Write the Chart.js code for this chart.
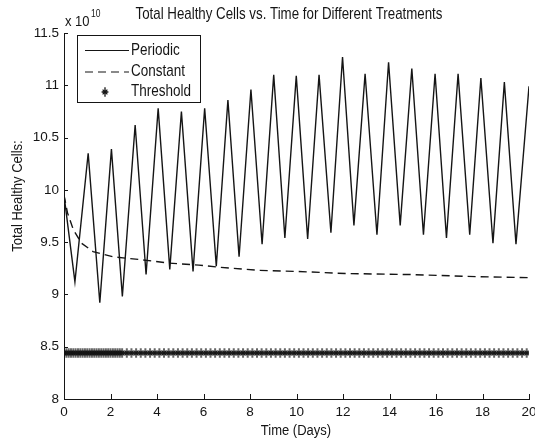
<!DOCTYPE html>
<html>
<head>
<meta charset="utf-8">
<script src="https://cdn.jsdelivr.net/npm/chart.js@4/dist/chart.umd.min.js"></script>
<style>
  html, body { margin: 0; padding: 0; background: #fff; }
  #wrap { width: 535px; height: 441px; }
</style>
</head>
<body>
<div id="wrap"><canvas id="chart" width="535" height="441"></canvas></div>
<script>
// Periodic treatment: peak / trough vertices (days, x 10^10 cells)
const periodicT = [0, 0.47, 1.04, 1.54, 2.04, 2.51, 3.06, 3.53, 4.05, 4.55, 5.05, 5.55, 6.05, 6.55,
  7.05, 7.53, 8.04, 8.52, 9.02, 9.5, 9.99, 10.48, 10.97, 11.48, 11.98, 12.47, 12.95, 13.46,
  13.96, 14.46, 14.96, 15.46, 15.96, 16.45, 16.95, 17.45, 17.93, 18.45, 18.94, 19.44, 20];
const periodicV = [9.95, 9.12, 10.35, 8.92, 10.39, 8.98, 10.62, 9.19, 10.78, 9.24, 10.75, 9.22, 10.78, 9.27,
  10.86, 9.36, 10.96, 9.48, 11.1, 9.54, 11.09, 9.53, 11.1, 9.59, 11.27, 9.66, 11.11, 9.57,
  11.22, 9.66, 11.16, 9.57, 11.11, 9.54, 11.11, 9.57, 11.07, 9.49, 11.03, 9.48, 10.99];

// Constant treatment
const constantT = [0, 0.15, 0.4, 0.75, 1.25, 2.1, 3.4, 4.5, 5.8, 6.7, 8.4, 10, 12.1, 14.9, 17.8, 20];
const constantV = [9.95, 9.78, 9.62, 9.49, 9.41, 9.36, 9.33, 9.30, 9.28, 9.26, 9.23, 9.22, 9.20, 9.19, 9.17, 9.16];

// Threshold treatment: flat at one level, markers at these times
const thresholdT = [0, 0.1, 0.2, 0.3, 0.4, 0.5, 0.6, 0.7, 0.8, 0.9, 1, 1.1, 1.2, 1.3, 1.4, 1.5, 1.6, 1.7,
  1.8, 1.9, 2, 2.1, 2.2, 2.3, 2.4, 2.5, 2.7, 2.9, 3.1, 3.3, 3.5, 3.7, 3.9, 4.1, 4.3, 4.5, 4.7, 4.9,
  5.1, 5.3, 5.5, 5.7, 5.9, 6.1, 6.3, 6.5, 6.7, 6.9, 7.1, 7.3, 7.5, 7.7, 7.9, 8.1, 8.3, 8.5, 8.7, 8.9,
  9.1, 9.3, 9.5, 9.7, 9.9, 10.1, 10.3, 10.5, 10.7, 10.9, 11.1, 11.3, 11.5, 11.7, 11.9, 12.1, 12.3,
  12.5, 12.7, 12.9, 13.1, 13.3, 13.5, 13.7, 13.9, 14.1, 14.3, 14.5, 14.7, 14.9, 15.1, 15.3, 15.5,
  15.7, 15.9, 16.1, 16.3, 16.5, 16.7, 16.9, 17.1, 17.3, 17.5, 17.7, 17.9, 18.1, 18.3, 18.5, 18.7,
  18.9, 19.1, 19.3, 19.5, 19.7, 19.9];
const thresholdLevel = 8.44;

const xTicks = [0, 2, 4, 6, 8, 10, 12, 14, 16, 18, 20];
const yTicks = [8, 8.5, 9, 9.5, 10, 10.5, 11, 11.5];

const seriesNames = ['Periodic', 'Constant', 'Threshold'];
const titleText = 'Total Healthy Cells vs. Time for Different Treatments';

const INK = '#151515';
const FONT = '"Liberation Sans", Arial, sans-serif';

function toPoints(xs, ys) {
    return xs.map((x, i) => ({ x: x, y: ys[i] }));
}

// stretched text, the scan is a bit taller than wide
function drawText(ctx, str, x, y, size, align, rot) {
    ctx.save();
    ctx.translate(x, y);
    if (rot) ctx.rotate(rot);
    ctx.scale(1, 1.18);
    ctx.font = size + 'px ' + FONT;
    ctx.fillStyle = INK;
    ctx.textAlign = align || 'center';
    ctx.textBaseline = 'middle';
    ctx.fillText(str, 0, 0);
    ctx.restore();
}

// MATLAB-like '*' marker, a little taller than wide
function drawStar(ctx, x, y, r) {
    ctx.beginPath();
    ctx.moveTo(x - r, y); ctx.lineTo(x + r, y);
    ctx.moveTo(x, y - r * 1.4); ctx.lineTo(x, y + r * 1.4);
    const d = r * 0.7;
    ctx.moveTo(x - d, y - d); ctx.lineTo(x + d, y + d);
    ctx.moveTo(x - d, y + d); ctx.lineTo(x + d, y - d);
    ctx.stroke();
}

const starImg = document.createElement('canvas');
starImg.width = 10;
starImg.height = 12;
(function () {
    const c = starImg.getContext('2d');
    c.strokeStyle = INK;
    c.lineWidth = 1.3;
    drawStar(c, 5, 6, 3.4);
})();

// inward ticks, labels, legend box
const decorPlugin = {
    id: 'decor',
    afterDraw(chart) {
        const ctx = chart.ctx;
        const area = chart.chartArea;
        const xs = chart.scales.x, ys = chart.scales.y;

        ctx.save();
        ctx.strokeStyle = INK;
        ctx.lineWidth = 1;
        ctx.beginPath();
        yTicks.forEach(v => {
            const py = Math.round(ys.getPixelForValue(v)) + 0.5;
            ctx.moveTo(area.left, py); ctx.lineTo(area.left + 4, py);
        });
        xTicks.forEach(v => {
            const px = Math.round(xs.getPixelForValue(v)) + 0.5;
            ctx.moveTo(px, area.bottom); ctx.lineTo(px, area.bottom - 5);
        });
        ctx.stroke();

        drawText(ctx, titleText, 289, 15, 13.3, 'center');
        drawText(ctx, 'Time (Days)', 296, 431, 13, 'center');
        drawText(ctx, 'Total Healthy Cells:', 18, 196, 13, 'center', -Math.PI / 2);
        drawText(ctx, 'x 10', 65, 22, 13, 'left');
        drawText(ctx, '10', 91, 14, 8.5, 'left');

        // legend
        const bx = 77.5, by = 35.5, bw = 123, bh = 67;
        ctx.fillStyle = '#fff';
        ctx.fillRect(bx, by, bw, bh);
        ctx.strokeRect(bx, by, bw, bh);
        const rows = [50.5, 72, 92];
        ctx.lineWidth = 1.2;
        ctx.beginPath();
        ctx.moveTo(85, rows[0]); ctx.lineTo(129, rows[0]);
        ctx.stroke();
        ctx.setLineDash([8, 5]);
        ctx.beginPath();
        ctx.moveTo(85, rows[1]); ctx.lineTo(129, rows[1]);
        ctx.stroke();
        ctx.setLineDash([]);
        ctx.lineWidth = 1.3;
        drawStar(ctx, 105, rows[2], 3.4);
        seriesNames.forEach((name, i) => drawText(ctx, name, 131, rows[i], 13.5, 'left'));
        ctx.restore();
    }
};

const ctx = document.getElementById('chart').getContext('2d');
new Chart(ctx, {
    type: 'scatter',
    data: {
        datasets: [{
            label: seriesNames[0],
            data: toPoints(periodicT, periodicV),
            showLine: true,
            borderColor: INK,
            borderWidth: 1.4,
            pointRadius: 0,
            tension: 0
        }, {
            label: seriesNames[1],
            data: toPoints(constantT, constantV),
            showLine: true,
            borderColor: INK,
            borderWidth: 1.4,
            borderDash: [8, 5],
            pointRadius: 0,
            tension: 0
        }, {
            label: seriesNames[2],
            data: thresholdT.map(t => ({ x: t, y: thresholdLevel })),
            showLine: false,
            pointStyle: starImg,
            pointRadius: 5,
            borderColor: INK,
            backgroundColor: INK
        }]
    },
    options: {
        responsive: false,
        animation: false,
        layout: { padding: { top: 33, right: 3, left: 0, bottom: 0 } },
        plugins: {
            legend: { display: false },
            title: { display: false },
            tooltip: { enabled: false }
        },
        scales: {
            x: {
                type: 'linear',
                min: 0,
                max: 20,
                afterBuildTicks: s => { s.ticks = xTicks.map(v => ({ value: v })); },
                afterFit: s => { s.height = 42; s.paddingLeft = 0; s.paddingRight = 0; },
                grid: { display: false, drawTicks: false },
                border: { display: true, color: INK, width: 1 },
                ticks: { color: INK, font: { family: FONT, size: 13.5 }, padding: 5, maxRotation: 0,
                         callback: v => String(v) }
            },
            y: {
                type: 'linear',
                min: 8,
                max: 11.5,
                afterBuildTicks: s => { s.ticks = yTicks.map(v => ({ value: v })); },
                afterFit: s => { s.width = 64; s.paddingTop = 0; s.paddingBottom = 0; },
                grid: { display: false, drawTicks: false },
                border: { display: true, color: INK, width: 1 },
                ticks: { color: INK, font: { family: FONT, size: 13.5 }, padding: 5,
                         callback: v => String(v) }
            }
        }
    },
    plugins: [decorPlugin]
});
</script>
</body>
</html>
